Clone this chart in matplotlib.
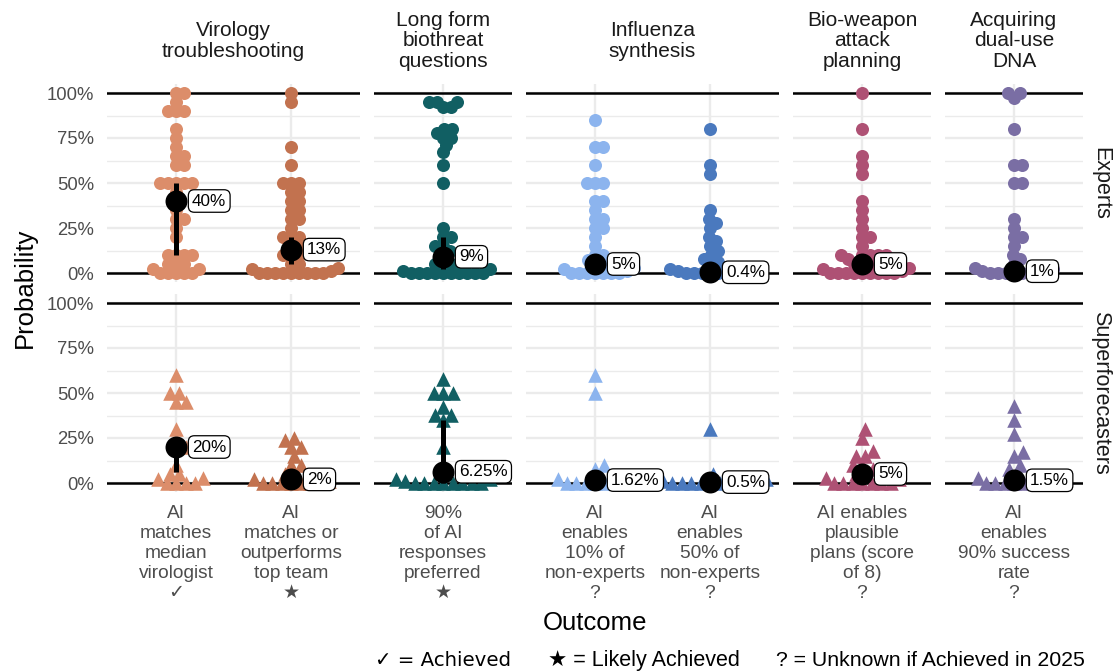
import numpy as np
import matplotlib.pyplot as plt

plt.rcParams['font.family'] = ['Liberation Sans', 'DejaVu Sans']

# facets and outcomes
tasks = ["Virology\ntroubleshooting", "Long form\nbiothreat\nquestions",
         "Influenza\nsynthesis", "Bio-weapon\nattack\nplanning",
         "Acquiring\ndual-use\nDNA"]
outcome_task = [0, 0, 1, 2, 2, 3, 4]
outcome_labels = ["AI\nmatches\nmedian\nvirologist\n✓",
                  "AI\nmatches or\noutperforms\ntop team\n★",
                  "90%\nof AI\nresponses\npreferred\n★",
                  "AI\nenables\n10% of\nnon-experts\n?",
                  "AI\nenables\n50% of\nnon-experts\n?",
                  "AI enables\nplausible\nplans (score\nof 8)\n?",
                  "AI\nenables\n90% success\nrate\n?"]
outcome_colors = ["#DC8D6A", "#C2724F", "#115F63", "#8CB4EE",
                  "#4A79BE", "#AE5174", "#7A6EA4"]
groups = ["Experts", "Superforecasters"]
key_items = ["✓ = Achieved", "★ = Likely Achieved",
             "? = Unknown if Achieved in 2025"]

# individual forecasts (probability), experts
v1_exp = [1.0, 1.0, 0.95, 0.9, 0.9, 0.9, 0.8, 0.75, 0.7, 0.65, 0.65, 0.6, 0.6,
          0.5, 0.5, 0.5, 0.5, 0.5, 0.45, 0.35, 0.3, 0.3, 0.25, 0.2,
          0.1, 0.1, 0.1, 0.1, 0.05, 0.05, 0.05, 0.02, 0.02,
          0, 0, 0, 0, 0]
v2_exp = [1.0, 0.95, 0.7, 0.6, 0.5, 0.5, 0.5, 0.45, 0.45, 0.4, 0.4, 0.35, 0.35,
          0.3, 0.3, 0.25, 0.2, 0.2, 0.2, 0.15, 0.15, 0.1, 0.1, 0.1, 0.05, 0.05,
          0.03, 0.02, 0.01, 0, 0, 0, 0, 0, 0, 0, 0, 0]
lf_exp = [0.95, 0.95, 0.95, 0.92, 0.92, 0.8, 0.8, 0.78, 0.75, 0.75, 0.71, 0.67,
          0.6, 0.5, 0.25, 0.2, 0.2, 0.15, 0.15, 0.12, 0.1, 0.05, 0.05, 0.05,
          0.05, 0.02, 0.01, 0, 0, 0, 0, 0, 0, 0, 0, 0, 0]
inf1_exp = [0.85, 0.7, 0.7, 0.6, 0.5, 0.5, 0.5, 0.4, 0.4, 0.35, 0.3, 0.3, 0.25,
            0.25, 0.2, 0.15, 0.1, 0.1, 0.07, 0.05, 0.05, 0.03, 0.02, 0.01,
            0, 0, 0, 0, 0, 0, 0]
inf2_exp = [0.8, 0.6, 0.55, 0.35, 0.3, 0.28, 0.25, 0.2, 0.18, 0.15, 0.12, 0.1,
            0.08, 0.06, 0.05, 0.02, 0.01, 0.01,
            0, 0, 0, 0, 0, 0, 0, 0]
bio_exp = [1.0, 0.8, 0.65, 0.6, 0.55, 0.4, 0.35, 0.3, 0.25, 0.2, 0.2, 0.15,
           0.1, 0.1, 0.1, 0.1, 0.1, 0.08, 0.05, 0.05, 0.05, 0.05, 0.03, 0.02,
           0.01, 0, 0, 0, 0, 0, 0, 0, 0, 0]
dna_exp = [1.0, 1.0, 0.97, 0.8, 0.6, 0.6, 0.5, 0.5, 0.3, 0.25, 0.2, 0.2, 0.15,
           0.1, 0.08, 0.05, 0.03, 0.02, 0.01, 0, 0, 0, 0, 0, 0, 0, 0]

# individual forecasts, superforecasters
v1_sf = [0.6, 0.5, 0.5, 0.45, 0.45, 0.3, 0.2, 0.2, 0.1, 0.05, 0.05, 0.03,
         0.02, 0, 0, 0, 0]
v2_sf = [0.25, 0.24, 0.2, 0.2, 0.15, 0.1, 0.1, 0.05, 0.05, 0.02, 0.01,
         0, 0, 0, 0, 0, 0, 0]
lf_sf = [0.58, 0.5, 0.5, 0.5, 0.42, 0.38, 0.38, 0.35, 0.2, 0.05, 0.02, 0.02,
         0.01, 0, 0, 0, 0, 0, 0, 0, 0]
inf1_sf = [0.6, 0.5, 0.1, 0.08, 0.03, 0.02, 0.01, 0, 0, 0, 0, 0, 0, 0]
inf2_sf = [0.3, 0.05, 0.02, 0.01, 0, 0, 0, 0, 0, 0, 0, 0, 0, 0]
bio_sf = [0.3, 0.25, 0.18, 0.15, 0.15, 0.1, 0.1, 0.08, 0.05, 0.05, 0.03, 0.02,
          0, 0, 0, 0, 0, 0, 0]
dna_sf = [0.43, 0.35, 0.27, 0.17, 0.15, 0.1, 0.08, 0.05, 0.03, 0.02,
          0, 0, 0, 0, 0, 0, 0]

# medians and intervals
exp_median = [0.40, 0.13, 0.09, 0.05, 0.004, 0.05, 0.01]
exp_labels = ["40%", "13%", "9%", "5%", "0.4%", "5%", "1%"]
exp_low = [0.10, 0.05, 0.02, 0.01, 0.0, 0.01, 0.0]
exp_high = [0.50, 0.20, 0.20, 0.10, 0.05, 0.10, 0.05]
sf_median = [0.20, 0.02, 0.0625, 0.0162, 0.005, 0.05, 0.015]
sf_labels = ["20%", "2%", "6.25%", "1.62%", "0.5%", "5%", "1.5%"]
sf_low = [0.06, 0.0, 0.0, 0.0, 0.0, 0.01, 0.0]
sf_high = [0.25, 0.05, 0.35, 0.05, 0.03, 0.10, 0.05]

values = [[v1_exp, v2_exp, lf_exp, inf1_exp, inf2_exp, bio_exp, dna_exp],
          [v1_sf, v2_sf, lf_sf, inf1_sf, inf2_sf, bio_sf, dna_sf]]
medians = [exp_median, sf_median]
med_labels = [exp_labels, sf_labels]
lows = [exp_low, sf_low]
highs = [exp_high, sf_high]
markers = ['o', '^']
marker_size = [88, 110]
spacing = [8.0, 9.5]


def swarm(vals, d, sx, sy):
    # place points bottom-up, each as close to the centre as it can go
    y = np.asarray(vals, dtype=float) * sy
    xs = np.zeros(len(y))
    placed = []
    for i in np.argsort(y, kind='stable'):
        yi = y[i]
        near = [(px, py) for px, py in placed if abs(py - yi) < d]
        cands = [0.0]
        for px, py in near:
            dx = np.sqrt(d * d - (py - yi) ** 2)
            cands += [px + dx, px - dx]
        cands.sort(key=lambda c: (round(abs(c), 6), c < 0))
        for c in cands:
            if all((c - px) ** 2 + (yi - py) ** 2 >= d * d - 1e-6 for px, py in near):
                xs[i] = c
                break
        placed.append((xs[i], yi))
    return xs / sx


W, H = 1115, 672
fig = plt.figure(figsize=(W / 100, H / 100), dpi=100)

unit, gap, left0 = 115.0, 14.0, 107.0
ncat = [outcome_task.count(t) for t in range(len(tasks))]
lefts, widths = [], []
x = left0
for n in ncat:
    lefts.append(x)
    widths.append((n + 0.2) * unit)
    x += (n + 0.2) * unit + gap
row_top = [84, 294]
row_h = 198

for r in range(2):
    for t in range(len(tasks)):
        L, Wd = lefts[t], widths[t]
        ax = fig.add_axes([L / W, 1 - (row_top[r] + row_h) / H, Wd / W, row_h / H])
        idxs = [i for i in range(7) if outcome_task[i] == t]
        n = len(idxs)
        ax.set_xlim(-0.6, n - 0.4)
        ax.set_ylim(-0.05, 1.05)
        ax.set_yticks([0, 0.25, 0.5, 0.75, 1.0])
        ax.set_yticks(np.arange(0.125, 1.0, 0.25), minor=True)
        ax.set_xticks(range(n))
        ax.grid(True, which='major', color='#EBEBEB', lw=1.7)
        ax.grid(True, which='minor', axis='y', color='#EBEBEB', lw=1.0)
        ax.set_axisbelow(True)
        ax.tick_params(which='both', length=0)
        for s in ax.spines.values():
            s.set_visible(False)
        ax.axhline(0, color='black', lw=1.8, zorder=1.5)
        ax.axhline(1, color='black', lw=1.8, zorder=1.5)

        if t == 0:
            ax.set_yticklabels(['0%', '25%', '50%', '75%', '100%'],
                               fontsize=13.3, color='#4D4D4D')
            ax.tick_params(axis='y', pad=9)
        else:
            ax.tick_params(labelleft=False)
        if r == 1:
            ax.set_xticklabels([outcome_labels[i] for i in idxs], fontsize=13.8,
                               color='#4D4D4D', linespacing=1.24)
            ax.tick_params(axis='x', pad=9)
        else:
            ax.tick_params(labelbottom=False)

        sx = Wd / (n + 0.2)
        sy = row_h / 1.1
        for k, i in enumerate(idxs):
            v = values[r][i]
            off = swarm(v, spacing[r], sx, sy)
            ax.scatter(k + off, v, s=marker_size[r], marker=markers[r],
                       color=outcome_colors[i], linewidths=0, zorder=3,
                       clip_on=False)
            ax.plot([k, k], [lows[r][i], highs[r][i]], color='black', lw=3.6,
                    solid_capstyle='butt', zorder=4)
            ax.scatter([k], [medians[r][i]], s=250, color='black', zorder=5,
                       linewidths=0, clip_on=False)
            ax.text(k + 0.14, medians[r][i], med_labels[r][i], fontsize=12.3,
                    ha='left', va='center', zorder=6, clip_on=False,
                    bbox=dict(boxstyle='round,pad=0.22,rounding_size=0.35',
                              fc='white', ec='black', lw=0.9))

# facet strips
for t in range(len(tasks)):
    cx = lefts[t] + widths[t] / 2
    fig.text(cx / W, 1 - 41 / H, tasks[t], ha='center', va='center',
             fontsize=15, color='#1A1A1A', linespacing=1.12)
for r, g in enumerate(groups):
    cy = row_top[r] + row_h / 2
    fig.text(1101 / W, 1 - cy / H, g, rotation=-90, ha='center', va='center',
             fontsize=15.5, color='#1A1A1A')

# axis titles and key
fig.text(25 / W, 1 - 288 / H, "Probability", rotation=90, ha='center',
         va='center', fontsize=18.5)
fig.text(595 / W, 1 - 623 / H, "Outcome", ha='center', va='center',
         fontsize=18.5)
key_x = [375, 548, 776]
key_family = [['DejaVu Sans'], ['Liberation Sans', 'DejaVu Sans'],
              ['Liberation Sans', 'DejaVu Sans']]
key_size = [14.2, 15.5, 15.3]
for kx, txt, fam, fs in zip(key_x, key_items, key_family, key_size):
    fig.text(kx / W, 1 - 666 / H, txt, ha='left', va='baseline', fontsize=fs,
             family=fam)

fig.savefig("out.png", dpi=100)
